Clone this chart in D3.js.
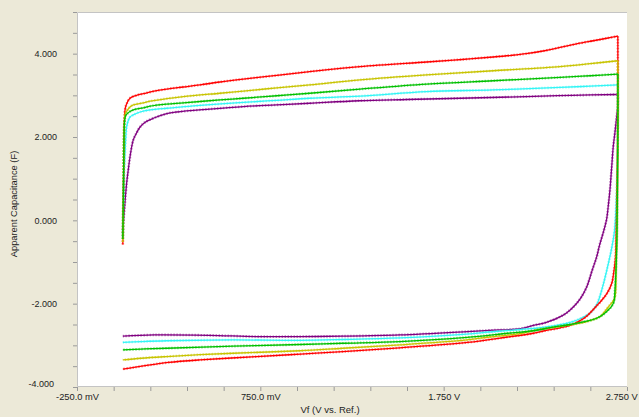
<!DOCTYPE html>
<html>
<head>
<meta charset="utf-8">
<script src="https://cdn.jsdelivr.net/npm/d3@7"></script>
<style>
  html, body { margin: 0; padding: 0; background: #ece9d8; }
  svg { display: block; font-family: "Liberation Sans", Arial, sans-serif; }
</style>
</head>
<body>
<svg id="chart" width="639" height="417"></svg>
<script>
// Axis ticks and labels
const xMajorTicks = [-0.25, 0.75, 1.75, 2.75];
const xTickLabels = ["-250.0 mV", "750.0 mV", "1.750 V", "2.750 V"];
const yMajorTicks = [-4, -2, 0, 2, 4];
const yTickLabels = ["-4.000", "-2.000", "0.000", "2.000", "4.000"];
const xTitle = "Vf (V vs. Ref.)";
const yTitle = "Apparent Capacitance (F)";

// Each scan: [potential (V), apparent capacitance (F)], forward sweep then reverse sweep
const redForward = [[0.0,-0.58],[0.003,0.6],[0.006,1.8],[0.009,2.45],[0.013,2.68],[0.021,2.8],[0.039,2.93],[0.075,3.0],[0.112,3.04],[0.17,3.1],[0.239,3.15],[0.33,3.2],[0.421,3.25],[0.53,3.32],[0.657,3.39],[0.84,3.48],[1.02,3.57],[1.294,3.69],[1.657,3.8],[1.85,3.86],[2.02,3.92],[2.12,3.96],[2.2,4.0],[2.3,4.07],[2.385,4.15],[2.48,4.24],[2.566,4.31],[2.64,4.37],[2.70,4.42]];
const redReverse = [[2.70,2.6],[2.697,1.0],[2.692,-0.2],[2.686,-0.95],[2.676,-1.3],[2.667,-1.51],[2.64,-1.76],[2.61,-1.93],[2.585,-2.05],[2.53,-2.3],[2.49,-2.42],[2.44,-2.52],[2.385,-2.58],[2.3,-2.65],[2.24,-2.71],[2.1,-2.8],[1.88,-2.93],[1.51,-3.06],[1.2,-3.15],[0.97,-3.21],[0.73,-3.27],[0.42,-3.35],[0.25,-3.41],[0.15,-3.47],[0.06,-3.53],[0.0,-3.57]];

const oliveForward = [[0.0,-0.52],[0.003,0.7],[0.006,1.9],[0.009,2.4],[0.013,2.56],[0.021,2.62],[0.039,2.72],[0.057,2.77],[0.112,2.82],[0.148,2.86],[0.239,2.92],[0.33,2.97],[0.53,3.05],[0.657,3.1],[0.84,3.18],[1.02,3.25],[1.294,3.37],[1.657,3.49],[2.02,3.59],[2.385,3.69],[2.55,3.76],[2.70,3.83]];
const oliveReverse = [[2.70,2.4],[2.698,1.0],[2.695,-0.3],[2.69,-1.1],[2.685,-1.83],[2.672,-1.95],[2.657,-2.03],[2.63,-2.18],[2.603,-2.31],[2.53,-2.43],[2.44,-2.51],[2.35,-2.57],[2.257,-2.63],[2.166,-2.72],[2.0,-2.8],[1.876,-2.87],[1.512,-2.99],[1.2,-3.07],[0.966,-3.13],[0.603,-3.19],[0.4,-3.23],[0.239,-3.27],[0.1,-3.31],[0.0,-3.35]];

const greenForward = [[0.0,-0.45],[0.003,0.7],[0.006,1.9],[0.009,2.35],[0.013,2.48],[0.021,2.55],[0.057,2.65],[0.112,2.7],[0.148,2.74],[0.239,2.79],[0.33,2.82],[0.53,2.89],[0.657,2.93],[0.84,2.99],[1.02,3.05],[1.294,3.15],[1.657,3.27],[2.02,3.35],[2.385,3.43],[2.55,3.47],[2.70,3.51]];
const greenReverse = [[2.70,2.3],[2.698,0.9],[2.695,-0.4],[2.69,-1.2],[2.684,-1.7],[2.679,-1.95],[2.665,-2.07],[2.648,-2.15],[2.62,-2.26],[2.585,-2.35],[2.5,-2.45],[2.44,-2.5],[2.34,-2.57],[2.239,-2.65],[2.1,-2.71],[1.876,-2.81],[1.512,-2.91],[1.2,-2.95],[0.966,-2.98],[0.603,-3.02],[0.239,-3.07],[0.1,-3.09],[0.0,-3.11]];

const cyanForward = [[0.0,-0.4],[0.004,0.5],[0.008,1.2],[0.014,1.8],[0.021,2.25],[0.03,2.4],[0.039,2.48],[0.057,2.53],[0.094,2.6],[0.148,2.65],[0.239,2.69],[0.294,2.71],[0.421,2.76],[0.657,2.83],[0.84,2.88],[1.02,2.93],[1.294,2.98],[1.657,3.09],[2.02,3.13],[2.385,3.19],[2.55,3.22],[2.70,3.25]];
const cyanReverse = [[2.70,2.0],[2.697,1.2],[2.692,0.5],[2.682,-0.25],[2.665,-0.7],[2.645,-1.1],[2.62,-1.55],[2.6,-1.85],[2.585,-2.02],[2.55,-2.22],[2.5,-2.35],[2.44,-2.45],[2.31,-2.56],[2.17,-2.62],[2.0,-2.68],[1.876,-2.73],[1.512,-2.82],[1.2,-2.86],[0.966,-2.88],[0.6,-2.87],[0.24,-2.89],[0.1,-2.91],[0.0,-2.93]];

const purpleForward = [[0.0,-0.3],[0.004,0.0],[0.012,0.45],[0.021,0.9],[0.03,1.22],[0.039,1.52],[0.057,1.93],[0.075,2.1],[0.094,2.24],[0.12,2.35],[0.166,2.45],[0.239,2.56],[0.294,2.6],[0.475,2.67],[0.657,2.73],[0.839,2.77],[1.02,2.81],[1.29,2.87],[1.55,2.9],[1.84,2.93],[2.2,2.97],[2.45,3.0],[2.70,3.02]];
const purpleReverse = [[2.70,2.75],[2.694,2.5],[2.684,2.1],[2.675,1.77],[2.666,1.25],[2.657,0.73],[2.648,0.35],[2.639,0.03],[2.62,-0.3],[2.6,-0.6],[2.585,-0.87],[2.56,-1.2],[2.53,-1.6],[2.5,-1.85],[2.476,-1.99],[2.44,-2.15],[2.40,-2.28],[2.31,-2.45],[2.24,-2.52],[2.17,-2.6],[2.0,-2.64],[1.88,-2.67],[1.51,-2.75],[1.2,-2.78],[0.97,-2.79],[0.73,-2.79],[0.47,-2.76],[0.17,-2.75],[0.0,-2.78]];

const scans = [
  { color: "#800080", forward: purpleForward, reverse: purpleReverse },
  { color: "#33f5f5", forward: cyanForward, reverse: cyanReverse },
  { color: "#ff0000", forward: redForward, reverse: redReverse },
  { color: "#c8c400", forward: oliveForward, reverse: oliveReverse },
  { color: "#00c000", forward: greenForward, reverse: greenReverse }
];

const W = 639, H = 417;
const plot = { left: 77, right: 627, top: 12, bottom: 387 };

const svg = d3.select("#chart");
svg.append("rect").attr("width", W).attr("height", H).attr("fill", "#ece9d8");

const x = d3.scaleLinear().domain([-0.25, 2.75]).range([plot.left, plot.right]);
const y = d3.scaleLinear().domain([-4, 5]).range([plot.bottom, plot.top]);

// plot area
svg.append("rect")
  .attr("x", plot.left).attr("y", plot.top)
  .attr("width", plot.right - plot.left).attr("height", plot.bottom - plot.top)
  .attr("fill", "#ffffff");
svg.append("path")
  .attr("d", `M${plot.right},${plot.top + 0.5}H${plot.left + 0.5}V${plot.bottom - 0.5}H${plot.right}`)
  .attr("fill", "none").attr("stroke", "#c4c4c4").attr("stroke-width", 1);

// minor + major tick marks
const yTickAll = d3.range(-4, 5.001, 0.5);
const xTickAll = d3.range(-0.25, 2.7501, 0.2);

const yTickAxis = svg.append("g").attr("transform", `translate(${plot.left},0)`)
  .call(d3.axisLeft(y).tickValues(yTickAll).tickSize(4).tickFormat(""));
yTickAxis.select(".domain").remove();
yTickAxis.selectAll("line").attr("stroke", "#9a9a9a");

const xTickAxis = svg.append("g").attr("transform", `translate(0,${plot.bottom})`)
  .call(d3.axisBottom(x).tickValues(xTickAll).tickSize(4).tickFormat(""));
xTickAxis.select(".domain").remove();
xTickAxis.selectAll("line").attr("stroke", "#9a9a9a");

// tick labels
const yLabelAxis = svg.append("g").attr("transform", `translate(${plot.left},0)`)
  .call(d3.axisLeft(y).tickValues(yMajorTicks).tickSize(0).tickPadding(20)
    .tickFormat((d, i) => yTickLabels[i]));
yLabelAxis.select(".domain").remove();
yLabelAxis.selectAll("text")
  .attr("fill", "#222").attr("font-size", "9px")
  .attr("font-family", "'Liberation Sans', Arial, sans-serif")
  .attr("transform", d => d === -4 ? "translate(-3,-3)" : null);

const xLabelAxis = svg.append("g").attr("transform", `translate(0,${plot.bottom})`)
  .call(d3.axisBottom(x).tickValues(xMajorTicks).tickSize(0).tickPadding(6)
    .tickFormat((d, i) => xTickLabels[i]));
xLabelAxis.select(".domain").remove();
xLabelAxis.selectAll("text")
  .attr("fill", "#222").attr("font-size", "9.3px")
  .attr("font-family", "'Liberation Sans', Arial, sans-serif")
  .each(function () {
    const bb = this.getBBox();
    const tickX = x(d3.select(this).datum());
    const over = tickX + bb.x + bb.width - (W - 1);
    if (over > 0) d3.select(this).attr("x", -over);
  });

// axis titles
svg.append("text")
  .attr("x", 330).attr("y", 413)
  .attr("text-anchor", "middle")
  .attr("font-size", "9.5px").attr("fill", "#222")
  .text(xTitle);

svg.append("text")
  .attr("transform", "translate(17,204) rotate(-90)")
  .attr("text-anchor", "middle")
  .attr("font-size", "9.3px").attr("fill", "#222")
  .text(yTitle);

// scans: forward and reverse sweeps drawn as separate strokes so the
// reversal corner stays sharp
const line = d3.line()
  .x(d => x(d[0])).y(d => y(d[1]))
  .curve(d3.curveCatmullRom.alpha(0.5));

const g = svg.append("g");
scans.forEach(s => {
  const last = s.forward[s.forward.length - 1];
  const branches = [s.forward, [last].concat(s.reverse)];
  branches.forEach(pts => {
    g.append("path").attr("d", line(pts))
      .attr("fill", "none").attr("stroke", s.color)
      .attr("stroke-width", 1.3).attr("stroke-linejoin", "round");
    g.append("path").attr("d", line(pts))
      .attr("fill", "none").attr("stroke", s.color)
      .attr("stroke-width", 2.6).attr("stroke-dasharray", "1.4,1.6")
      .attr("opacity", 0.5);
  });
});
</script>
</body>
</html>
